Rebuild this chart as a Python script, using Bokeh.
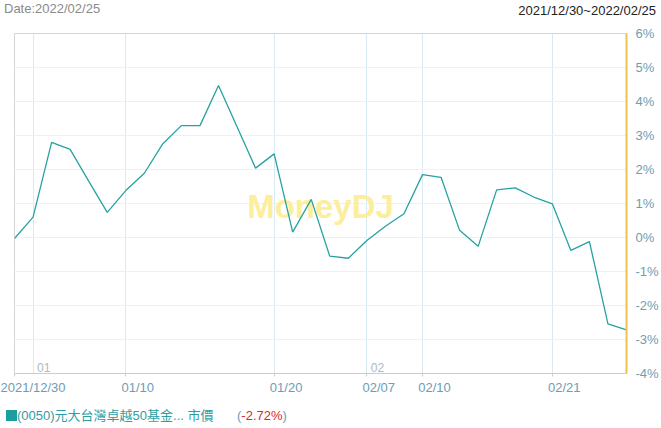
from bokeh.plotting import figure
from bokeh.models import (Range1d, FixedTicker, ColumnDataSource, Label, LabelSet, Div,
                          LinearAxis)
from bokeh.layouts import column
from bokeh.core.properties import value
from bokeh.embed import file_html
from bokeh.resources import INLINE

# Trading days and daily cumulative return (%) of the fund's market price
dates = [
    "2021/12/30",
    "2022/01/03", "2022/01/04", "2022/01/05", "2022/01/06", "2022/01/07",
    "2022/01/10", "2022/01/11", "2022/01/12", "2022/01/13", "2022/01/14",
    "2022/01/17", "2022/01/18", "2022/01/19", "2022/01/20", "2022/01/21",
    "2022/01/24", "2022/01/25", "2022/01/26",
    "2022/02/07", "2022/02/08", "2022/02/09", "2022/02/10", "2022/02/11",
    "2022/02/14", "2022/02/15", "2022/02/16", "2022/02/17", "2022/02/18",
    "2022/02/21", "2022/02/22", "2022/02/23", "2022/02/24", "2022/02/25",
]
returns = [
    -0.03, 0.60, 2.80, 2.59, 1.66, 0.74,
    1.38, 1.89, 2.76, 3.29, 3.29,
    4.47, 3.26, 2.04, 2.46, 0.16,
    1.12, -0.55, -0.61,
    -0.09, 0.33, 0.70, 1.85, 1.77,
    0.21, -0.26, 1.40, 1.46, 1.19,
    0.99, -0.38, -0.12, -2.54, -2.72,
]
tick_dates = ["2021/12/30", "2022/01/10", "2022/01/20", "2022/02/07", "2022/02/10", "2022/02/21"]
tick_labels = ["2021/12/30", "01/10", "01/20", "02/07", "02/10", "02/21"]
month_labels = ["01", "02"]
y_ticks = [-4, -3, -2, -1, 0, 1, 2, 3, 4, 5, 6]

fund_name = "(0050)元大台灣卓越50基金... 市價"
date_text = "Date:2022/02/25"
period_text = "2021/12/30~2022/02/25"

LINE = "#27a2a2"
AXIS_TXT = "#6e9db3"
FONT = "Liberation Sans"
CSS_FONT = "'Liberation Sans', 'Noto Sans CJK TC', sans-serif"

FRAME_W = 661 - 14 - 33
x = list(range(len(dates)))
tick_idx = [dates.index(d) for d in tick_dates]
# date labels sit just right of their tick (they start a few px left of it)
px_per_day = FRAME_W / (len(dates) - 1)
label_pos = [i + 12.0 / px_per_day for i in tick_idx]
# first trading day of each new month gets a vertical marker
month_idx = [i for i in range(1, len(dates)) if dates[i][5:7] != dates[i - 1][5:7]]
grid_idx = sorted(set(month_idx + tick_idx[1:]))

p = figure(width=661, height=383, output_backend="svg", toolbar_location=None,
           x_range=Range1d(0, len(dates) - 1), y_range=Range1d(-4, 6),
           y_axis_location="right", x_axis_location=None,
           min_border_left=14, min_border_right=33,
           min_border_top=13, min_border_bottom=30, margin=0)
p.background_fill_color = "white"
p.border_fill_color = "white"
p.outline_line_color = "#d4d4d4"

# right-hand percentage axis, horizontal grid every 1%
p.yaxis.ticker = FixedTicker(ticks=y_ticks)
p.yaxis.major_label_overrides = {t: f"{t}%" for t in y_ticks}
p.yaxis.axis_line_color = "#f0c24f"
p.yaxis.axis_line_width = 2
p.yaxis.major_tick_line_color = None
p.yaxis.minor_tick_line_color = None
p.yaxis.major_label_standoff = 3
p.yaxis.major_label_text_font = FONT
p.yaxis.major_label_text_font_size = "13px"
p.yaxis.major_label_text_color = AXIS_TXT
p.ygrid.ticker = FixedTicker(ticks=y_ticks)
p.ygrid.grid_line_color = "#f0f0f0"

# date axis: tick marks at the trading days
tick_axis = LinearAxis(ticker=FixedTicker(ticks=tick_idx),
                       major_label_overrides={i: "" for i in tick_idx},
                       axis_line_color="#cccccc", major_tick_line_color="#cccccc",
                       major_tick_out=3, major_tick_in=0, minor_tick_line_color=None,
                       major_label_standoff=0, major_label_text_font_size="0px")
p.add_layout(tick_axis, "below")
# date axis: the labels
label_axis = LinearAxis(ticker=FixedTicker(ticks=label_pos),
                        major_label_overrides=dict(zip(label_pos, tick_labels)),
                        axis_line_color=None, major_tick_line_color=None,
                        minor_tick_line_color=None, major_tick_out=0, major_tick_in=0,
                        major_label_standoff=3, major_label_text_font=FONT,
                        major_label_text_font_size="13px",
                        major_label_text_color=AXIS_TXT)
p.add_layout(label_axis, "below")

p.xgrid.ticker = FixedTicker(ticks=grid_idx)
p.xgrid.grid_line_color = "#d8ebf2"
p.xgrid.visible = True

# watermark
p.add_layout(Label(x=306, y=167, x_units="screen", y_units="screen", text="MoneyDJ",
                   text_font=FONT, text_font_style="bold", text_font_size="33px",
                   text_color="#fcee9c", text_align="center", text_baseline="middle",
                   level="underlay"))

p.line(x, returns, line_color=LINE, line_width=1.3)

# month markers
mon_src = ColumnDataSource(dict(x=month_idx, text=month_labels))
p.add_layout(LabelSet(x="x", y=6, y_units="screen", text="text", source=mon_src,
                      x_offset=4, text_font=value(FONT), text_font_size="12px",
                      text_color="#a9bcc4", text_align="left", text_baseline="middle"))

# header line
header = Div(
    width=661, height=20, margin=0,
    text=(f'<div style="position:relative;width:661px;height:20px;font-family:{CSS_FONT};'
          f'font-size:13px;line-height:20px;">'
          f'<span style="position:absolute;left:4px;top:-1px;color:#8a8a8a;">{date_text}</span>'
          f'<span style="position:absolute;right:5px;top:1px;color:#222222;">{period_text}</span>'
          f'</div>'))

# legend line
last = returns[-1]
footer = Div(
    width=661, height=25, margin=0,
    text=(f'<div style="position:relative;width:661px;height:25px;font-family:{CSS_FONT};'
          f'font-size:13px;line-height:25px;">'
          f'<span style="position:absolute;left:6px;top:0px;width:11px;height:11px;'
          f'margin-top:7px;background:#1a9e9e;"></span>'
          f'<span style="position:absolute;left:17px;top:0px;color:#2f9ea3;">{fund_name}</span>'
          f'<span style="position:absolute;left:237px;top:0px;color:{AXIS_TXT};">('
          f'<span style="color:#e0262b;">{last:.2f}%</span>)</span>'
          f'</div>'))

layout = column(header, p, footer, spacing=0, margin=0)
open("out.html", "w").write(file_html(layout, INLINE))
